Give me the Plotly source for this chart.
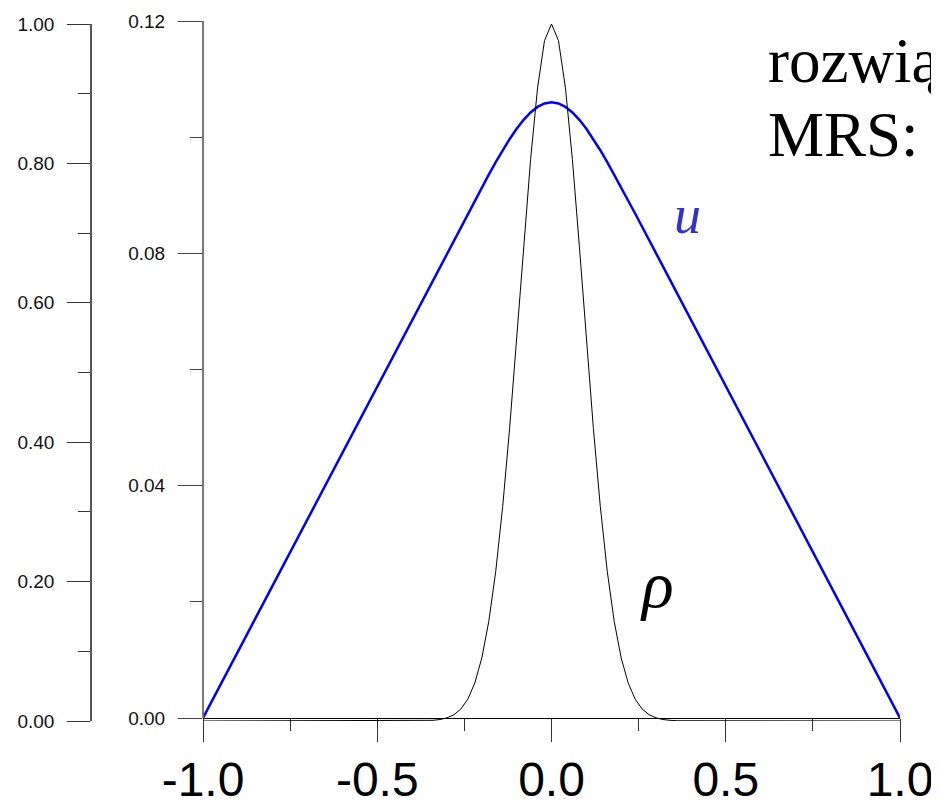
import plotly.graph_objects as go

# sample positions along the x axis
x_vals = [-1.0, -0.36, -0.34, -0.32, -0.30, -0.28, -0.26, -0.24, -0.22, -0.20, -0.18,
          -0.16, -0.14, -0.12, -0.10, -0.08, -0.06, -0.04, -0.02, 0.0,
          0.02, 0.04, 0.06, 0.08, 0.10, 0.12, 0.14, 0.16, 0.18, 0.20,
          0.22, 0.24, 0.26, 0.28, 0.30, 0.32, 0.34, 0.36, 1.0]

# rho (left axis, normalised 0..1)
rho_vals = [0.0, 0.0004, 0.0010, 0.0021, 0.0045, 0.0090, 0.0172, 0.0314, 0.0546, 0.0904, 0.1427,
            0.2147, 0.3080, 0.4209, 0.5483, 0.6807, 0.8055, 0.9083, 0.9762, 1.0,
            0.9762, 0.9083, 0.8055, 0.6807, 0.5483, 0.4209, 0.3080, 0.2147, 0.1427, 0.0904,
            0.0546, 0.0314, 0.0172, 0.0090, 0.0045, 0.0021, 0.0010, 0.0004, 0.0]

# u (middle axis, 0..0.12)
u_vals = [0.0, 0.07316, 0.07545, 0.07774, 0.08002, 0.08231, 0.08458, 0.08686, 0.08912, 0.09135, 0.09355,
          0.09570, 0.09775, 0.09969, 0.10145, 0.10299, 0.10426, 0.10521, 0.10580, 0.10600,
          0.10580, 0.10521, 0.10426, 0.10299, 0.10145, 0.09969, 0.09775, 0.09570, 0.09355, 0.09135,
          0.08912, 0.08686, 0.08458, 0.08231, 0.08002, 0.07774, 0.07545, 0.07316, 0.0]

x_ticks = [-1.0, -0.5, 0.0, 0.5, 1.0]
x_tick_text = ["-1.0", "-0.5", "0.0", "0.5", "1.0"]
u_ticks = [0.0, 0.04, 0.08, 0.12]
u_tick_text = ["0.00", "0.04", "0.08", "0.12"]
rho_ticks = [0.0, 0.2, 0.4, 0.6, 0.8, 1.0]
rho_tick_text = ["0.00", "0.20", "0.40", "0.60", "0.80", "1.00"]

W, H = 939, 806
OFF = 8  # the page body has an 8px default margin; compensate so the picture lines up

def px(x):
    return (x - OFF) / W
def py(y):
    return (H - (y - OFF)) / H

SANS = "Liberation Sans, Arial, sans-serif"
SERIF = "Liberation Serif, Times New Roman, serif"

fig = go.Figure()
fig.add_trace(go.Scatter(x=x_vals, y=rho_vals, xaxis="x2", yaxis="y2", mode="lines",
                         line=dict(color="black", width=1), showlegend=False, hoverinfo="skip"))
fig.add_trace(go.Scatter(x=x_vals, y=u_vals, xaxis="x", yaxis="y", mode="lines",
                         line=dict(color="#0000ff", width=2.5), showlegend=False, hoverinfo="skip"))

xdom = [px(203), px(900)]
fig.update_layout(
    width=W, height=H, autosize=False,
    margin=dict(l=0, r=0, t=0, b=0, pad=0),
    paper_bgcolor="white", plot_bgcolor="rgba(0,0,0,0)",
    xaxis=dict(domain=xdom, range=[-1, 1], anchor="y", showgrid=False, zeroline=False,
               automargin=False,
               showline=True, linecolor="black", linewidth=1,
               ticks="outside", ticklen=23, tickwidth=1, tickcolor="#333",
               tickvals=x_ticks, ticktext=x_tick_text, ticklabelstandoff=-4,
               tickfont=dict(family=SANS, size=48, color="black"),
               minor=dict(ticks="outside", ticklen=12, tickwidth=1, tickcolor="#333",
                          dtick=0.25, tick0=0, showgrid=False)),
    xaxis2=dict(domain=xdom, range=[-1, 1], anchor="y2", visible=False, automargin=False),
    yaxis=dict(domain=[py(718), py(21)], range=[0, 0.12], anchor="free", position=px(203),
               automargin=False,
               showgrid=False, zeroline=False, showline=True, linecolor="#777", linewidth=2,
               ticks="outside", ticklen=24, tickwidth=1, tickcolor="#444",
               tickvals=u_ticks, ticktext=u_tick_text, ticklabelstandoff=9,
               tickfont=dict(family=SANS, size=19, color="#111"),
               minor=dict(ticks="outside", ticklen=12, tickwidth=1, tickcolor="#444",
                          dtick=0.02, tick0=0, showgrid=False)),
    yaxis2=dict(domain=[py(721), py(24)], range=[0, 1], anchor="free", position=px(91),
                automargin=False,
                showgrid=False, zeroline=False, showline=True, linecolor="#555", linewidth=1.5,
                ticks="outside", ticklen=23, tickwidth=1, tickcolor="#333",
                tickvals=rho_ticks, ticktext=rho_tick_text, ticklabelstandoff=9,
                tickfont=dict(family=SANS, size=19, color="#111"),
                minor=dict(ticks="outside", ticklen=12, tickwidth=1, tickcolor="#333",
                           dtick=0.1, tick0=0, showgrid=False)),
    annotations=[
        dict(text="rozwią", xref="paper", yref="paper", x=px(766), y=py(61),
             xanchor="left", yanchor="middle", showarrow=False,
             font=dict(family=SERIF, size=63, color="black")),
        dict(text="MRS:", xref="paper", yref="paper", x=px(766), y=py(135),
             xanchor="left", yanchor="middle", showarrow=False,
             font=dict(family=SERIF, size=63, color="black")),
        dict(text="<i>u</i>", xref="paper", yref="paper", x=px(687), y=py(215),
             xanchor="center", yanchor="middle", showarrow=False,
             font=dict(family=SERIF, size=54, color="rgb(51,51,204)")),
        dict(text="<i>ρ</i>", xref="paper", yref="paper", x=px(657), y=py(584),
             xanchor="center", yanchor="middle", showarrow=False,
             font=dict(family=SERIF, size=66, color="black")),
    ],
)

fig.write_html("out.html")
